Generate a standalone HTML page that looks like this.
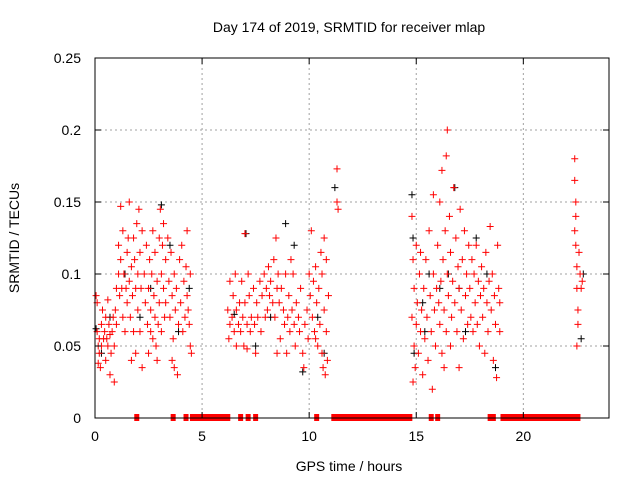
<!DOCTYPE html>
<html><head><meta charset="utf-8"><style>
html,body{margin:0;padding:0;background:#fff;}
svg text{font-family:"Liberation Sans",sans-serif;fill:#000;}
</style></head><body>
<svg id="chart" width="640" height="480" xmlns="http://www.w3.org/2000/svg">
<rect width="640" height="480" fill="#fff"/>
<g id="grid"></g>
<g id="pts"></g>
<rect x="95" y="58" width="514" height="360" fill="none" stroke="#000" stroke-width="1"/>
<g id="ticks"></g>
<text x="349" y="32" text-anchor="middle" font-size="14">Day 174 of 2019, SRMTID for receiver mlap</text>
<text x="349" y="471" text-anchor="middle" font-size="14">GPS time / hours</text>
<text transform="translate(19,238) rotate(-90)" text-anchor="middle" font-size="14">SRMTID / TECUs</text>
</svg>
<script>
const xTicks=[0,5,10,15,20];
const yTicks=[0,0.05,0.1,0.15,0.2,0.25];
const yTickLabels=["0","0.05","0.1","0.15","0.2","0.25"];
const redPts=[[0.05,.085],[.1,.08],[.1,.06],[.15,.05],[.2,.045],[.2,.055],[.25,.035],[.3,.065],[.3,.05],[.35,.075],[.4,.055],[.45,.06],[.5,.04],[.5,.07],[.55,.055],[.6,.05],[.65,.065],[.7,.03],[.7,.058],[.75,.045],[.8,.06],[.85,.07],[.9,.025],[.9,.05],[.95,.075],[1.0,.065],[1.0,.09],[.15,.038],[.6,.082],
[1.1,.12],[1.1,.1],[1.15,.085],[1.2,.147],[1.2,.11],[1.25,.09],[1.3,.13],[1.3,.07],[1.35,.1],[1.4,.06],[1.45,.09],[1.5,.115],[1.5,.08],[1.55,.125],[1.6,.15],[1.6,.095],[1.65,.07],[1.7,.105],[1.75,.085],[1.8,.125],[1.8,.06],[1.85,.11],[1.9,.09],[1.95,.135],[2.0,.075],[2.0,.1],[2.05,.145],[2.1,.115],[2.1,.06],[2.15,.09],[1.9,.045],[2.2,.035],[1.7,.04],[2.2,.13],
[2.3,.1],[2.35,.08],[2.4,.12],[2.45,.065],[2.5,.09],[2.55,.11],[2.6,.06],[2.6,.075],[2.65,.1],[2.7,.055],[2.7,.13],[2.75,.085],[2.8,.07],[2.8,.115],[2.85,.05],[2.9,.095],[2.95,.065],[3.0,.125],[3.0,.08],[3.05,.145],[3.1,.1],[3.1,.06],[3.15,.12],[3.2,.09],[3.2,.135],[3.25,.07],[3.3,.11],[2.5,.045],[2.9,.04],[3.3,.08],
[3.4,.125],[3.45,.095],[3.5,.07],[3.55,.115],[3.6,.085],[3.65,.055],[3.7,.1],[3.7,.035],[3.75,.075],[3.8,.09],[3.85,.03],[3.9,.065],[3.95,.11],[4.0,.08],[4.05,.12],[4.1,.06],[4.15,.095],[4.2,.07],[4.25,.105],[4.3,.085],[4.35,.075],[4.4,.065],[4.45,.05],[4.45,.1],[4.5,.045],[3.6,.04],[4.3,.13],
[6.2,.075],[6.25,.055],[6.3,.095],[6.3,.065],[6.4,.07],[6.45,.085],[6.5,.06],[6.55,.1],[6.6,.075],[6.7,.065],[6.75,.08],[6.8,.06],[6.85,.095],[6.9,.07],[6.95,.05],[7.0,.128],[7.0,.08],[7.1,.065],[7.15,.1],[7.2,.085],[7.25,.06],[7.3,.07],[7.4,.09],[7.45,.065],[7.5,.045],[7.55,.08],[7.6,.07],[7.7,.095],[7.75,.06],[7.8,.085],[7.9,.1],[7.95,.07],[6.6,.05],[7.1,.048],
[8.0,.09],[8.05,.075],[8.1,.105],[8.15,.085],[8.2,.095],[8.3,.08],[8.35,.11],[8.4,.07],[8.45,.125],[8.5,.09],[8.55,.1],[8.6,.08],[8.65,.055],[8.7,.09],[8.8,.075],[8.85,.065],[8.9,.1],[8.95,.045],[9.0,.07],[9.05,.085],[9.1,.06],[9.2,.075],[9.25,.1],[9.3,.065],[9.35,.05],[9.4,.08],[9.5,.07],[9.55,.06],[9.6,.09],[9.7,.045],[9.75,.035],[9.8,.065],[9.9,.075],[9.95,.055],[8.5,.045],[9.15,.11],
[10.0,.1],[10.05,.085],[10.1,.13],[10.15,.07],[10.2,.095],[10.25,.06],[10.3,.105],[10.35,.08],[10.4,.05],[10.45,.09],[10.5,.065],[10.55,.115],[10.6,.045],[10.6,.1],[10.65,.035],[10.7,.075],[10.75,.03],[10.8,.11],[10.8,.06],[10.85,.04],[10.9,.085],[11.3,.173],[11.3,.15],[11.35,.145],[10.3,.055],[10.7,.125],
[14.8,.14],[14.8,.07],[14.85,.11],[14.9,.05],[14.9,.09],[14.95,.035],[15.0,.065],[15.0,.12],[15.05,.08],[15.1,.045],[15.15,.1],[15.2,.06],[15.25,.075],[15.3,.03],[15.35,.09],[15.4,.055],[15.45,.11],[15.5,.07],[15.55,.04],[15.6,.13],[15.65,.085],[15.7,.06],[15.75,.02],[15.8,.1],[15.85,.075],[15.9,.05],[15.95,.09],[15.8,.155],[14.85,.025],[15.2,.115],
[16.0,.12],[16.05,.08],[16.1,.15],[16.1,.065],[16.15,.095],[16.2,.045],[16.25,.11],[16.3,.075],[16.35,.13],[16.4,.06],[16.4,.182],[16.45,.2],[16.45,.1],[16.5,.085],[16.55,.14],[16.6,.05],[16.6,.115],[16.65,.07],[16.7,.095],[16.75,.16],[16.8,.08],[16.85,.125],[16.9,.06],[16.95,.105],[17.0,.09],[17.05,.145],[17.1,.075],[17.15,.11],[17.2,.055],[17.25,.13],[17.3,.085],[17.35,.1],[17.4,.065],[17.45,.12],[16.3,.035],[17.0,.035],[16.2,.172],
[17.5,.09],[17.55,.07],[17.6,.11],[17.65,.06],[17.7,.1],[17.75,.08],[17.8,.12],[17.85,.065],[17.9,.095],[17.95,.05],[18.0,.085],[18.05,.105],[18.1,.07],[18.15,.09],[18.2,.045],[18.25,.115],[18.3,.08],[18.35,.06],[18.4,.095],[18.45,.133],[18.5,.075],[18.55,.1],[18.6,.04],[18.65,.085],[18.7,.065],[18.8,.12],[18.85,.09],[18.9,.06],[18.9,.08],[18.75,.028],
[22.4,.18],[22.4,.165],[22.45,.15],[22.4,.13],[22.45,.12],[22.5,.105],[22.5,.09],[22.55,.075],[22.55,.065],[22.5,.05],[22.6,.115],[22.65,.1],[22.7,.09],[22.75,.095],[22.45,.14]];
const blackPts=[[0.05,.062],[.3,.045],[.7,.07],[1.4,.1],[2.1,.07],[2.6,.09],[3.1,.148],[3.5,.12],[3.9,.06],[4.4,.09],[6.5,.072],[7.05,.128],[7.5,.05],[8.2,.07],[8.9,.135],[9.3,.12],[9.7,.032],[10.4,.07],[10.7,.045],[11.2,.16],[14.8,.155],[14.85,.125],[14.9,.045],[15.3,.08],[15.6,.1],[16.1,.09],[16.5,.1],[16.8,.16],[17.0,.09],[17.3,.06],[17.8,.125],[18.3,.1],[18.7,.035],[22.7,.055],[22.8,.1],[15.4,.06]];
const zeroHours=[1.95,3.65,4.25,4.55,4.7,4.85,5.0,5.15,5.3,5.45,5.6,5.75,5.9,6.05,6.2,6.8,7.15,7.5,10.35,
11.15,11.3,11.45,11.6,11.75,11.9,12.05,12.2,12.35,12.5,12.65,12.8,12.95,13.1,13.25,13.4,13.55,13.7,13.85,14.0,14.15,14.3,14.45,14.6,14.7,
15.7,16.0,18.45,18.6,19.05,19.2,19.35,19.5,19.65,19.8,19.95,20.1,20.25,20.4,20.55,20.7,20.85,21.0,21.15,21.3,21.45,21.6,21.75,21.9,22.05,22.2,22.35,22.5,22.55];
const NS="http://www.w3.org/2000/svg";
const X=h=>95+h*(514/24), Y=v=>418-v*1440;
const grid=document.getElementById('grid'),ticks=document.getElementById('ticks'),pts=document.getElementById('pts');
function mk(tag,attrs,parent){const e=document.createElementNS(NS,tag);for(const k in attrs)e.setAttribute(k,attrs[k]);parent.appendChild(e);return e;}
xTicks.forEach(t=>{const x=X(t);
 if(t>0){const g=mk('line',{x1:x,x2:x,y1:58,y2:418,stroke:'#a0a0a0','stroke-dasharray':'2,3'},grid);
 
 }
 mk('line',{x1:x,x2:x,y1:418,y2:412,stroke:'#000'},ticks);mk('line',{x1:x,x2:x,y1:58,y2:64,stroke:'#000'},ticks);
 const tx=mk('text',{x:x,y:441,'text-anchor':'middle','font-size':14},ticks);tx.textContent=t;
 
 });
yTicks.forEach((t,i)=>{const y=Y(t);
 if(t>0&&t<0.25){const g=mk('line',{x1:95,x2:609,y1:y,y2:y,stroke:'#a0a0a0','stroke-dasharray':'2,3'},grid);
 
 }
 mk('line',{x1:95,x2:101,y1:y,y2:y,stroke:'#000'},ticks);mk('line',{x1:603,x2:609,y1:y,y2:y,stroke:'#000'},ticks);
 const tx=mk('text',{x:81,y:y+5,'text-anchor':'end','font-size':14},ticks);tx.textContent=yTickLabels[i];
 
 });
function plus(h,v,col,name){const x=X(h),y=Y(v);
 const p=mk('path',{d:`M${x-3.5},${y}H${x+3.5}M${x},${y-3.5}V${y+3.5}`,stroke:col,'stroke-width':1,fill:'none'},pts);
 
 }
blackPts.forEach(p=>plus(p[0],p[1],'#000','black-point'));
redPts.forEach(p=>plus(p[0],p[1],'#ff0000','red-point'));
zeroHours.forEach(h=>{const x=X(h);
 const r=mk('rect',{x:x-2.5,y:414,width:5,height:7,fill:'#ff0000'},pts);
 
 });
</script>
</body></html>
